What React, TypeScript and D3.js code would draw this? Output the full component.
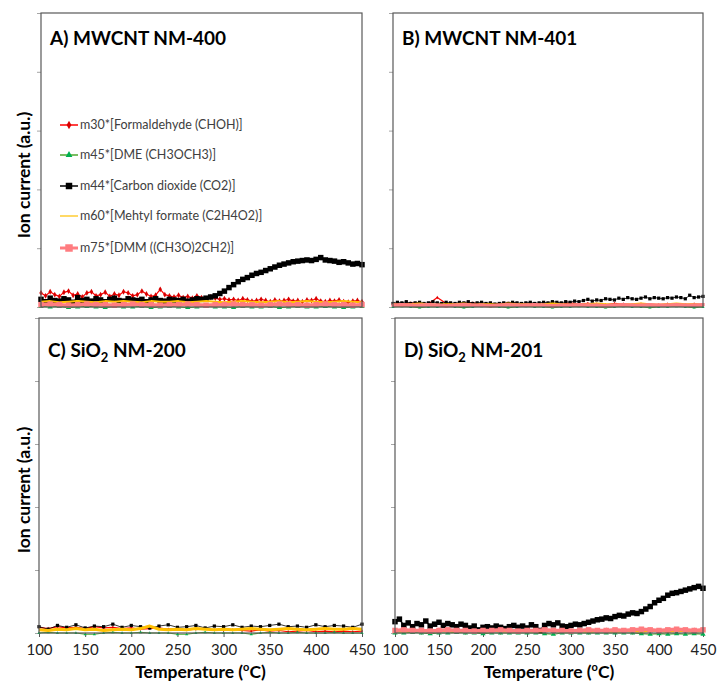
import * as d3 from 'd3'
import { useEffect, useRef, type ReactElement } from 'react'

// sample grids (°C)
const temps5 = d3.range(100, 451, 5)
const temps10 = d3.range(100, 451, 10)
const tempTicks = [100, 150, 200, 250, 300, 350, 400, 450]
const ionTicks = [0, 1, 2, 3, 4, 5]

// ---- A) MWCNT NM-400
const aFormaldehyde = [
  0.24, 0.19, 0.26, 0.21, 0.18, 0.25, 0.27, 0.2, 0.22, 0.17,
  0.24, 0.26, 0.19, 0.21, 0.25, 0.18, 0.22, 0.2, 0.26, 0.24,
  0.19, 0.21, 0.27, 0.22, 0.18, 0.2, 0.3, 0.21, 0.19, 0.17,
  0.2, 0.16, 0.18, 0.15, 0.19, 0.16, 0.14, 0.17, 0.15, 0.13, 0.14,
  0.12, 0.13, 0.11, 0.14, 0.12, 0.1, 0.11, 0.13, 0.11, 0.09,
  0.12, 0.1, 0.11, 0.13, 0.1, 0.11, 0.09, 0.12, 0.11, 0.14,
  0.1, 0.09, 0.11, 0.1, 0.12, 0.09, 0.08, 0.1, 0.11, 0.09,
]
const aDme = [
  0.01, 0, 0.01, -0.01, 0, 0.01, 0, -0.01, 0.01, 0,
  0, 0.01, -0.01, 0, 0.01, 0, -0.01, 0, 0.01, 0,
  0, -0.01, 0.01, 0, 0, 0.01, -0.01, 0, 0.01, 0,
  0, 0.01, 0, -0.01, 0, 0.01,
]
const aCo2 = [
  0.13, 0.09, 0.15, 0.11, 0.1, 0.14, 0.12, 0.08, 0.16, 0.11,
  0.13, 0.1, 0.14, 0.12, 0.09, 0.13, 0.15, 0.11, 0.1, 0.14,
  0.12, 0.11, 0.13, 0.09, 0.12, 0.14, 0.11, 0.1, 0.13, 0.12,
  0.11, 0.13, 0.1, 0.12, 0.14, 0.13, 0.15,
  0.17, 0.19, 0.23, 0.27, 0.33, 0.38, 0.43, 0.47, 0.5, 0.54,
  0.57, 0.59, 0.62, 0.65, 0.68, 0.71, 0.73, 0.75, 0.77, 0.78,
  0.79, 0.8, 0.79, 0.81, 0.84, 0.8, 0.79, 0.78, 0.76, 0.77,
  0.75, 0.73, 0.74, 0.72,
]
const aMethylFormate = [
  0.09, 0.1, 0.08, 0.09, 0.1, 0.09, 0.08, 0.1, 0.09, 0.1,
  0.09, 0.08, 0.1, 0.09, 0.09, 0.1, 0.08, 0.09, 0.1, 0.09,
  0.08, 0.09, 0.1, 0.09, 0.08, 0.09, 0.1, 0.08, 0.09, 0.1,
  0.09, 0.08, 0.09, 0.1, 0.09, 0.08,
]
const aDmm = [
  0.04, 0.05, 0.04, 0.03, 0.04, 0.05, 0.04, 0.04, 0.03, 0.04,
  0.05, 0.04, 0.04, 0.03, 0.04, 0.04, 0.05, 0.04, 0.03, 0.04,
  0.04, 0.05, 0.04, 0.04, 0.03, 0.04, 0.05, 0.04, 0.04, 0.03,
  0.04, 0.05, 0.04, 0.04, 0.03, 0.04,
]

// ---- B) MWCNT NM-401
const bFormaldehyde = [
  0.06, 0.05, 0.07, 0.06, 0.05, 0.16, 0.06, 0.05, 0.06, 0.07,
  0.05, 0.06, 0.05, 0.07, 0.06, 0.05, 0.06, 0.04, 0.06, 0.05,
  0.07, 0.05, 0.06, 0.05, 0.04, 0.06, 0.05, 0.04, 0.05, 0.03,
  0.04, 0.05, 0.03, 0.04, 0.05, 0.04,
]
const bDme = [
  0, 0.01, 0, -0.01, 0, 0, 0.01, 0, -0.01, 0,
  0.01, 0, 0, -0.01, 0, 0.01, 0, 0, -0.01, 0,
  0, 0.01, 0, 0, -0.01, 0, 0.01, 0, 0, -0.01,
  0, 0, 0.01, 0, -0.01, 0,
]
const bCo2 = [
  0.06, 0.08, 0.07, 0.09, 0.06, 0.07, 0.08, 0.06, 0.07, 0.09,
  0.07, 0.06, 0.08, 0.07, 0.06, 0.08, 0.07, 0.09, 0.06, 0.07,
  0.08, 0.06, 0.07, 0.05, 0.06, 0.07, 0.06, 0.08, 0.07, 0.06,
  0.07, 0.08, 0.06, 0.07, 0.08, 0.07, 0.09, 0.08, 0.07, 0.09, 0.08,
  0.1, 0.09, 0.11, 0.13, 0.1, 0.12, 0.11, 0.14, 0.13, 0.12,
  0.15, 0.13, 0.16, 0.14, 0.13, 0.15, 0.17, 0.14, 0.16, 0.15,
  0.14, 0.16, 0.15, 0.17, 0.16, 0.14, 0.2, 0.16, 0.17, 0.18,
]
const bMethylFormate = [
  0.04, 0.03, 0.04, 0.05, 0.04, 0.03, 0.04, 0.04, 0.05, 0.03,
  0.04, 0.04, 0.03, 0.05, 0.04, 0.04, 0.03, 0.04, 0.05, 0.04,
  0.03, 0.04, 0.04, 0.05, 0.04, 0.03, 0.04, 0.04, 0.05, 0.04,
  0.03, 0.04, 0.05, 0.04, 0.04, 0.03,
]
const bDmm = [
  0.03, 0.04, 0.03, 0.03, 0.04, 0.03, 0.02, 0.03, 0.04, 0.03,
  0.03, 0.02, 0.03, 0.04, 0.03, 0.03, 0.04, 0.03, 0.02, 0.03,
  0.03, 0.04, 0.03, 0.03, 0.02, 0.03, 0.04, 0.03, 0.03, 0.04,
  0.03, 0.03, 0.04, 0.03, 0.03, 0.04,
]

// ---- C) SiO2 NM-200
const cFormaldehyde = [
  0.09, 0.07, 0.1, 0.08, 0.09, 0.07, 0.1, 0.08, 0.09, 0.07,
  0.08, 0.06, 0.07, 0.08, 0.06, 0.07, 0.05, 0.06, 0.07, 0.05,
  0.04, 0.05, 0.04, 0.03, 0.05, 0.03, 0.04, 0.02, 0.03, 0.04,
  0.02, 0.03, 0.02, 0.03, 0.02, 0.03,
]
const cDme = [
  0, 0.01, 0, 0, 0, -0.02, -0.02, 0, 0.01, 0,
  0, 0.01, 0, 0, 0, -0.02, -0.02, 0, 0.01, 0,
  0, 0, 0, -0.02, 0, 0.01, 0, 0, 0.01, 0,
  0, 0, 0.01, 0, 0, 0,
]
const cCo2 = [
  0.1, 0.06, 0.12, 0.09, 0.13, 0.08, 0.11, 0.1, 0.14, 0.09,
  0.12, 0.1, 0.08, 0.11, 0.13, 0.09, 0.1, 0.12, 0.08, 0.11,
  0.1, 0.13, 0.09, 0.11, 0.1, 0.12, 0.14, 0.1, 0.11, 0.09,
  0.13, 0.1, 0.12, 0.11, 0.09, 0.14,
]
const cMethylFormate = [
  0.05, 0.04, 0.06, 0.05, 0.07, 0.05, 0.06, 0.04, 0.05, 0.06,
  0.05, 0.07, 0.11, 0.06, 0.05, 0.06, 0.05, 0.07, 0.06, 0.05,
  0.06, 0.05, 0.06, 0.07, 0.06, 0.05, 0.06, 0.07, 0.06, 0.05,
  0.06, 0.07, 0.06, 0.06, 0.07, 0.06,
]

// ---- D) SiO2 NM-201
const dFormaldehyde = [
  0.03, 0.04, 0.03, 0.02, 0.03, 0.04, 0.03, 0.03, 0.02, 0.03,
  0.04, 0.03, 0.02, 0.03, 0.03, 0.04, 0.03, 0.02, 0.03, 0.04,
  0.03, 0.03, 0.02, 0.03, 0.04, 0.03, 0.03, 0.02, 0.03, 0.04,
  0.03, 0.03, 0.02, 0.03, 0.04, 0.03,
]
const dDme = [
  0, 0, 0.01, 0, -0.01, 0, 0, 0.01, 0, 0,
  -0.01, 0, 0, 0, 0, 0, 0, -0.01, -0.02, 0,
  0, 0, 0, 0, 0, 0, 0, 0, -0.01, -0.02,
  -0.01, -0.02, -0.01, -0.02, -0.01, -0.02,
]
const dCo2 = [
  0.18, 0.22, 0.12, 0.16, 0.1, 0.15, 0.13, 0.19, 0.11, 0.14,
  0.17, 0.12, 0.15, 0.13, 0.1, 0.14, 0.12, 0.08, 0.11, 0.05,
  0.09, 0.1, 0.08, 0.11, 0.09, 0.07, 0.1, 0.12, 0.09, 0.11,
  0.08, 0.13, 0.1, 0.04, 0.12, 0.15, 0.13, 0.16, 0.11, 0.1,
  0.12, 0.14, 0.13, 0.15,
  0.17, 0.19, 0.21, 0.22, 0.24, 0.23, 0.26, 0.28, 0.27, 0.3,
  0.32, 0.31, 0.34, 0.38, 0.42, 0.48, 0.52, 0.55, 0.6, 0.63,
  0.64, 0.66, 0.68, 0.7, 0.72, 0.74, 0.71,
]
const dMethylFormate = [
  0.03, 0.02, 0.03, 0.03, 0.02, 0.03, 0.03, 0.02, 0.03, 0.03,
  0.02, 0.03, 0.03, 0.02, 0.03, 0.03, 0.02, 0.03, 0.03, 0.02,
  0.03, 0.03, 0.02, 0.03, 0.03, 0.02, 0.03, 0.03, 0.02, 0.03,
  0.03, 0.02, 0.03, 0.03, 0.02, 0.03,
]
const dDmm = [
  0.04, 0.05, 0.04, 0.04, 0.03, 0.04, 0.05, 0.04, 0.04, 0.03,
  0.04, 0.04, 0.05, 0.04, 0.03, 0.04, 0.04, 0.05, 0.04, 0.04,
  0.03, 0.04, 0.05, 0.04, 0.04, 0.05, 0.04, 0.05, 0.06, 0.05,
  0.04, 0.05, 0.06, 0.05, 0.04, 0.05,
]

type Pt = { t: number; v: number }
type SeriesStyle = {
  key: string
  label: string
  color: string
  markerColor: string
  lineWidth: number
  symbol: d3.SymbolType | null
  size: number
  legendSize: number
}

const seriesStyles: SeriesStyle[] = [
  { key: 'm30', label: 'm30*[Formaldehyde (CHOH)]', color: '#ff0000', markerColor: '#d80000', lineWidth: 1.2, symbol: d3.symbolDiamond, size: 10, legendSize: 20 },
  { key: 'm45', label: 'm45*[DME (CH3OCH3)]', color: '#4ea72e', markerColor: '#00b050', lineWidth: 1.2, symbol: d3.symbolTriangle, size: 12, legendSize: 20 },
  { key: 'm44', label: 'm44*[Carbon dioxide (CO2)]', color: '#000000', markerColor: '#000000', lineWidth: 1.5, symbol: d3.symbolSquare, size: 30, legendSize: 42 },
  { key: 'm60', label: 'm60*[Mehtyl formate (C2H4O2)]', color: '#ffc000', markerColor: '#ffc000', lineWidth: 2, symbol: null, size: 0, legendSize: 0 },
  { key: 'm75', label: 'm75*[DMM ((CH3O)2CH2)]', color: '#ff7c80', markerColor: '#ff7c80', lineWidth: 3.5, symbol: d3.symbolSquare, size: 30, legendSize: 56 },
]

const toPts = (temps: number[], vals: number[]): Pt[] => vals.map((v, i) => ({ t: temps[i]!, v }))

type Panel = {
  title: string
  sub?: string
  titleRest?: string
  left: number
  right: number
  top: number
  bottom: number
  titleY: number
  xLabels: boolean
  legend: boolean
  markerScale: number
  yLabelY?: number
  data: Record<string, Pt[]>
}

const panels: Panel[] = [
  {
    title: 'A) MWCNT NM-400', left: 41, right: 362, top: 13, bottom: 307, titleY: 45, xLabels: false, legend: true, markerScale: 1, yLabelY: 175,
    data: {
      m30: toPts(temps5, aFormaldehyde), m45: toPts(temps10, aDme), m44: toPts(temps5, aCo2),
      m60: toPts(temps10, aMethylFormate), m75: toPts(temps10, aDmm),
    },
  },
  {
    title: 'B) MWCNT NM-401', left: 393, right: 703, top: 13, bottom: 307, titleY: 45, xLabels: false, legend: false, markerScale: 0.35,
    data: {
      m30: toPts(temps10, bFormaldehyde), m45: toPts(temps10, bDme), m44: toPts(temps5, bCo2),
      m60: toPts(temps10, bMethylFormate), m75: toPts(temps10, bDmm),
    },
  },
  {
    title: 'C) SiO', sub: '2', titleRest: ' NM-200', left: 39, right: 362, top: 318, bottom: 633, titleY: 357, xLabels: true, legend: false, markerScale: 0.35, yLabelY: 490,
    data: {
      m30: toPts(temps10, cFormaldehyde), m45: toPts(temps10, cDme), m44: toPts(temps10, cCo2),
      m60: toPts(temps10, cMethylFormate),
    },
  },
  {
    title: 'D) SiO', sub: '2', titleRest: ' NM-201', left: 395, right: 703, top: 318, bottom: 633, titleY: 357, xLabels: true, legend: false, markerScale: 1,
    data: {
      m30: toPts(temps10, dFormaldehyde), m45: toPts(temps10, dDme), m44: toPts(temps5, dCo2),
      m60: toPts(temps10, dMethylFormate), m75: toPts(temps10, dDmm),
    },
  },
]

const width = 717
const height = 684
const font = 'Lato, "Open Sans", sans-serif'
const axisGray = '#595959'

export default function App(): ReactElement {
  const svgRef = useRef<SVGSVGElement>(null)

  useEffect(() => {
    const svgElement = svgRef.current
    if (!svgElement) return
    const svg = d3.select(svgElement)
    svg.selectAll('*').remove()
    svg.append('rect').attr('width', width).attr('height', height).attr('fill', '#fff')

    panels.forEach((p) => {
      const x = d3.scaleLinear().domain([100, 450]).range([p.left, p.right])
      const y = d3.scaleLinear().domain([0, 5]).range([p.bottom, p.top])
      const g = svg.append('g')
      const small = p.markerScale < 1

      // y axis ticks (no labels)
      g.append('g')
        .attr('transform', `translate(${p.left},0)`)
        .call(d3.axisLeft(y).tickValues(ionTicks).tickSize(4).tickFormat(() => ''))
        .call((a) => a.select('.domain').remove())
        .selectAll('line')
        .attr('stroke', '#a6a6a6')

      // x axis
      const xAxis = g
        .append('g')
        .attr('transform', `translate(0,${p.bottom})`)
        .call(
          d3
            .axisBottom(x)
            .tickValues(tempTicks)
            .tickSize(p.xLabels ? 4 : 0)
            .tickPadding(7)
            .tickFormat((d) => (p.xLabels ? String(d) : '')),
        )
      xAxis.select('.domain').remove()
      xAxis.selectAll('line').attr('stroke', axisGray)
      xAxis
        .selectAll('text')
        .attr('font-family', font)
        .attr('font-size', 15)
        .attr('fill', '#222')

      // series, in Excel plotting order
      seriesStyles.forEach((s) => {
        const pts = p.data[s.key]
        if (!pts) return
        const line = d3
          .line<Pt>()
          .x((d) => x(d.t))
          .y((d) => y(d.v))
        let lw = s.lineWidth
        if (small && s.key === 'm60') lw = 3
        if (small && s.key === 'm44') lw = 0.8
        g.append('path')
          .datum(pts)
          .attr('fill', 'none')
          .attr('stroke', s.color)
          .attr('stroke-width', lw)
          .attr('stroke-linejoin', 'round')
          .attr('d', line)
        if (s.symbol) {
          const sym = d3.symbol().type(s.symbol).size(s.size * p.markerScale)
          g.selectAll(null)
            .data(pts)
            .join('path')
            .attr('transform', (d) => `translate(${x(d.t)},${y(d.v)})`)
            .attr('d', sym)
            .attr('fill', s.markerColor)
        }
      })

      // frame
      g.append('rect')
        .attr('x', p.left)
        .attr('y', p.top)
        .attr('width', p.right - p.left)
        .attr('height', p.bottom - p.top)
        .attr('fill', 'none')
        .attr('stroke', axisGray)
        .attr('stroke-width', 1.2)

      // title
      const title = g
        .append('text')
        .attr('x', p.left + 9)
        .attr('y', p.titleY)
        .attr('font-family', font)
        .attr('font-weight', 700)
        .attr('font-size', 19)
        .attr('fill', '#000')
        .text(p.title)
      if (p.sub) {
        title.append('tspan').attr('dy', 5).attr('font-size', 13).text(p.sub)
        title.append('tspan').attr('dy', -5).text(p.titleRest ?? '')
      }

      if (p.xLabels) {
        const lab = g
          .append('text')
          .attr('x', (p.left + p.right) / 2)
          .attr('y', 678)
          .attr('text-anchor', 'middle')
          .attr('font-family', font)
          .attr('font-weight', 700)
          .attr('font-size', 17.5)
          .attr('fill', '#000')
          .text('Temperature (')
        lab.append('tspan').attr('dy', -7).attr('font-size', 11).text('o')
        lab.append('tspan').attr('dy', 7).text('C)')
      }

      if (p.yLabelY !== undefined) {
        g.append('text')
          .attr('transform', `translate(30,${p.yLabelY}) rotate(-90)`)
          .attr('text-anchor', 'middle')
          .attr('font-family', font)
          .attr('font-weight', 700)
          .attr('font-size', 17.5)
          .attr('fill', '#000')
          .text('Ion current (a.u.)')
      }

      if (p.legend) {
        const rows = [125, 155, 186, 216, 248]
        seriesStyles.forEach((s, i) => {
          const ly = rows[i]!
          const lg = g.append('g').attr('transform', `translate(60,${ly})`)
          lg.append('line')
            .attr('x1', 0)
            .attr('x2', 18)
            .attr('stroke', s.color)
            .attr('stroke-width', s.key === 'm75' ? 3 : s.key === 'm60' ? 1.2 : 1.5)
          if (s.symbol) {
            lg.append('path')
              .attr('transform', 'translate(9,0)')
              .attr('d', d3.symbol().type(s.symbol).size(s.legendSize)())
              .attr('fill', s.markerColor)
          }
          lg.append('text')
            .attr('x', 20)
            .attr('y', 4)
            .attr('font-family', font)
            .attr('font-size', 12.5)
            .attr('fill', '#404040')
            .text(s.label)
        })
      }
    })
  }, [])

  return (
    <svg
      ref={svgRef}
      width={width}
      height={height}
      style={{ position: 'absolute', left: 0, top: 0, display: 'block' }}
    />
  )
}
